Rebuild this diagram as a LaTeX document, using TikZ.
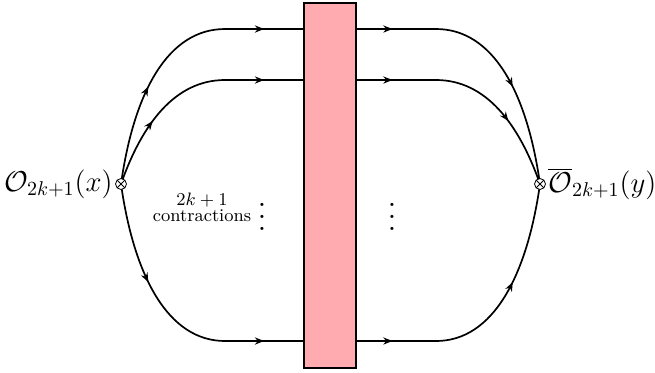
\documentclass[tikz,border=0pt]{standalone}
\usetikzlibrary{arrows.meta,decorations.markings}
\definecolor{boxpink}{RGB}{255,171,176}
\begin{document}
\begin{tikzpicture}[x=0.5pt,y=-0.5pt,
  wire/.style={line width=0.85pt},
  midarrow/.style={postaction={decorate},decoration={markings,mark=at position #1 with {\arrow{Stealth[length=4.6pt,width=3.6pt]}}}},
  vertex/.style={circle,draw,line width=0.4pt,minimum size=5.5pt,inner sep=0pt,fill=white,
    path picture={\draw[line width=0.4pt] (path picture bounding box.north west)--(path picture bounding box.south east)
      (path picture bounding box.north east)--(path picture bounding box.south west);}},
  vdotsnode/.style={inner sep=0pt},
]
\useasboundingbox (0,0) rectangle (655,372);
\node[draw,line width=0.85pt,fill=boxpink,minimum width=26pt,minimum height=182.5pt,inner sep=0pt] (box) at (330,185.5) {};

\coordinate (a1) at (225,29);
\coordinate (a2) at (225,80);
\coordinate (a3) at (225,341);
\coordinate (b1) at (436,29);
\coordinate (b2) at (436,80);
\coordinate (b3) at (436,341);

% left curves
\draw[wire,midarrow=0.5] (121,184) .. controls (134,92) and (168,29) .. (a1);
\draw[wire,midarrow=0.45] (121,184) .. controls (142,124) and (175,80) .. (a2);
\draw[wire,midarrow=0.5] (121,184) .. controls (134,276) and (168,341) .. (a3);
% left horizontals
\draw[wire,midarrow=0.5] (a1) -- (box.west |- a1);
\draw[wire,midarrow=0.5] (a2) -- (box.west |- a2);
\draw[wire,midarrow=0.5] (a3) -- (box.west |- a3);
% right horizontals
\draw[wire,midarrow=0.45] (box.east |- b1) -- (b1);
\draw[wire,midarrow=0.45] (box.east |- b2) -- (b2);
\draw[wire,midarrow=0.45] (box.east |- b3) -- (b3);
% right curves
\draw[wire,midarrow=0.5] (b1) .. controls (493,29) and (527,92) .. (540,184);
\draw[wire,midarrow=0.55] (b2) .. controls (486,80) and (519,124) .. (540,184);
\draw[wire,midarrow=0.5] (b3) .. controls (493,341) and (527,276) .. (540,184);

\node[vertex] (L) at (121,184) {};
\node[vertex] (R) at (540,184) {};

\node[anchor=east,font=\fontsize{13.6}{16}\selectfont,inner sep=1pt] (Llab) at (L.west) {$\mathcal{O}_{2k+1}(x)$};
\node[anchor=west,font=\fontsize{13.6}{16}\selectfont,inner sep=1pt] (Rlab) at (R.east) {$\overline{\mathcal{O}}_{2k+1}(y)$};

\node[align=center,font=\small,inner sep=0pt] (cl) at (202,207) {$2k+1$\\[-3pt]contractions};
\node[vdotsnode] (d1) at (262,208) {\scalebox{1.5}{$\vdots$}};
\node[vdotsnode] (d2) at (392,208) {\scalebox{1.5}{$\vdots$}};
\end{tikzpicture}
\end{document}
